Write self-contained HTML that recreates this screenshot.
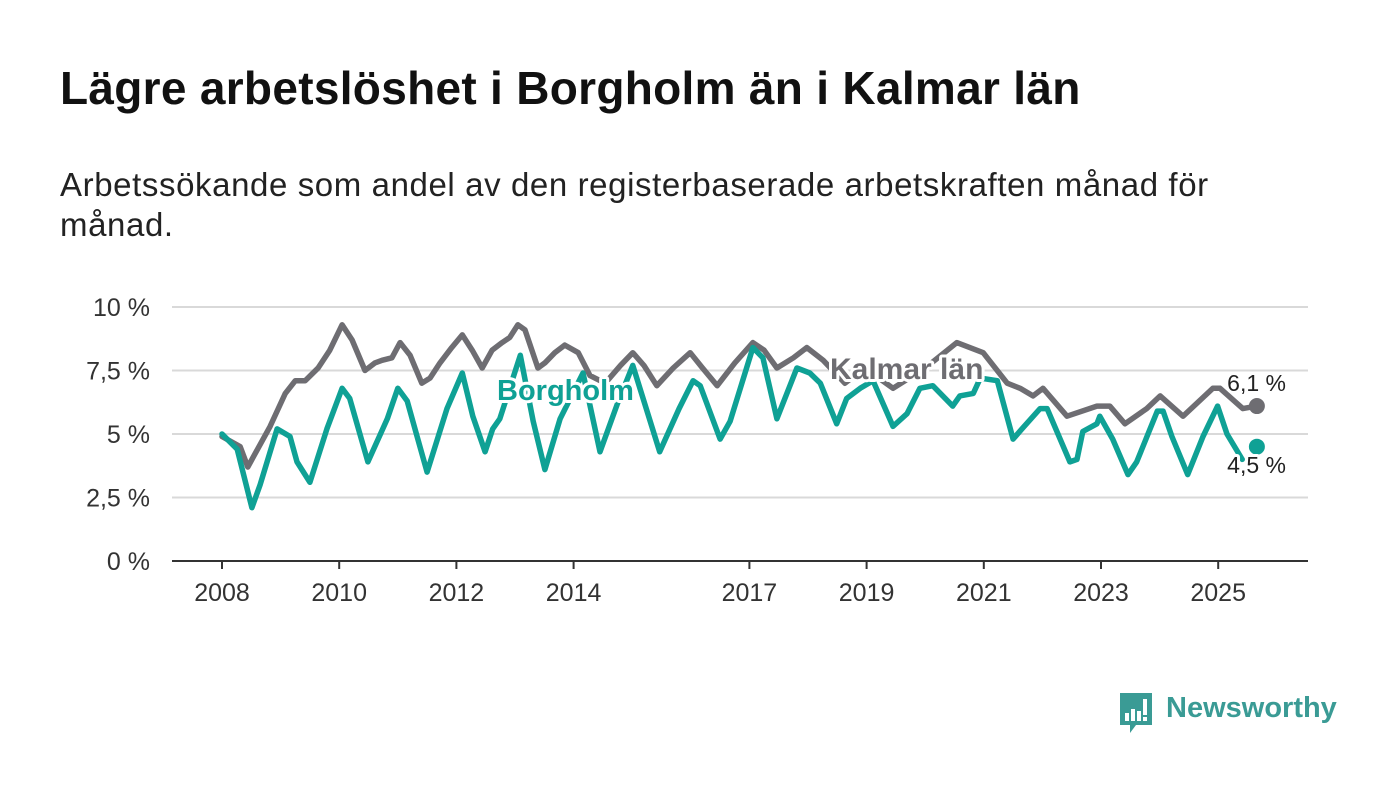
<!DOCTYPE html>
<html><head><meta charset="utf-8">
<style>
body{margin:0;width:1400px;height:794px;background:#fff;font-family:"Liberation Sans",sans-serif;overflow:hidden;position:relative}
h1{position:absolute;left:60px;top:61px;margin:0;font-size:46px;font-weight:bold;color:#111;letter-spacing:0.3px}
.sub{position:absolute;left:60px;top:165px;width:1240px;margin:0;font-size:33px;line-height:40px;color:#222;letter-spacing:0.6px}
svg{position:absolute;left:0;top:0}
</style></head><body>
<h1>Lägre arbetslöshet i Borgholm än i Kalmar län</h1>
<p class="sub">Arbetssökande som andel av den registerbaserade arbetskraften månad för månad.</p>
<svg id="chart" width="1400" height="794"></svg>
<div style="position:absolute;left:1118px;top:691px;width:230px;height:46px">
<svg width="36" height="44" style="left:0;top:0"><path d="M2 2h32v32H18l-6 8v-8H2z" fill="#3a9b95"/><rect x="7" y="22" width="4" height="8" fill="#fff"/><rect x="13" y="18" width="4" height="12" fill="#fff"/><rect x="19" y="20" width="4" height="10" fill="#fff"/><rect x="25" y="8" width="4" height="16" fill="#fff"/><rect x="25" y="26" width="4" height="4" fill="#fff"/></svg>
<span style="position:absolute;left:48px;top:1px;font-size:29px;font-weight:bold;color:#3a9b95">Newsworthy</span>
</div>
<script>
const yTicks=[0,2.5,5,7.5,10];
const yTickLabels=["0 %","2,5 %","5 %","7,5 %","10 %"];
const xTicks=[2008,2010,2012,2014,2017,2019,2021,2023,2025];
const kalmarDates=[2008.00,2008.31,2008.44,2008.82,2009.08,2009.25,2009.42,2009.64,2009.84,2010.05,2010.22,2010.44,2010.61,2010.73,2010.90,2011.04,2011.21,2011.41,2011.55,2011.72,2011.92,2012.10,2012.27,2012.44,2012.61,2012.78,2012.91,2013.05,2013.17,2013.39,2013.51,2013.68,2013.85,2014.08,2014.28,2014.54,2014.80,2015.01,2015.20,2015.42,2015.70,2015.99,2016.20,2016.45,2016.75,2017.06,2017.25,2017.47,2017.75,2017.98,2018.26,2018.63,2018.97,2019.45,2020.00,2020.54,2020.99,2021.40,2021.62,2021.84,2022.01,2022.42,2022.93,2023.15,2023.41,2023.78,2024.01,2024.40,2024.91,2025.03,2025.42,2025.66];
const kalmarValues=[4.9,4.5,3.7,5.3,6.6,7.1,7.1,7.6,8.3,9.3,8.7,7.5,7.8,7.9,8.0,8.6,8.1,7.0,7.2,7.8,8.4,8.9,8.3,7.6,8.3,8.6,8.8,9.3,9.1,7.6,7.8,8.2,8.5,8.2,7.3,7.0,7.7,8.2,7.7,6.9,7.6,8.2,7.6,6.9,7.8,8.6,8.3,7.6,8.0,8.4,7.9,7.0,7.6,6.8,7.6,8.6,8.2,7.0,6.8,6.5,6.8,5.7,6.1,6.1,5.4,6.0,6.5,5.7,6.8,6.8,6.0,6.1];
const borgDates=[2008.00,2008.26,2008.51,2008.65,2008.94,2009.16,2009.28,2009.50,2009.79,2010.05,2010.18,2010.49,2010.82,2011.00,2011.16,2011.33,2011.50,2011.84,2012.10,2012.28,2012.49,2012.62,2012.74,2013.09,2013.31,2013.51,2013.77,2014.16,2014.45,2014.75,2015.01,2015.47,2015.80,2016.04,2016.16,2016.50,2016.67,2017.06,2017.23,2017.47,2017.81,2018.03,2018.21,2018.49,2018.66,2018.89,2019.11,2019.45,2019.69,2019.91,2020.13,2020.47,2020.59,2020.82,2020.94,2021.23,2021.50,2021.65,2021.96,2022.08,2022.47,2022.59,2022.69,2022.93,2022.98,2023.20,2023.46,2023.61,2023.96,2024.06,2024.21,2024.48,2024.74,2024.99,2025.15,2025.41];
const borgValues=[5.0,4.4,2.1,3.0,5.2,4.9,3.9,3.1,5.2,6.8,6.4,3.9,5.6,6.8,6.3,4.9,3.5,6.0,7.4,5.7,4.3,5.2,5.6,8.1,5.5,3.6,5.6,7.4,4.3,6.2,7.7,4.3,6.0,7.1,6.9,4.8,5.5,8.4,8.0,5.6,7.6,7.4,7.0,5.4,6.4,6.8,7.1,5.3,5.8,6.8,6.9,6.1,6.5,6.6,7.2,7.1,4.8,5.2,6.0,6.0,3.9,4.0,5.1,5.4,5.7,4.8,3.4,3.9,5.9,5.9,4.9,3.4,4.9,6.1,5.0,4.0];
const lastDate=2025.66, kalmarLast=6.1, borgLast=4.5;
const kalmarLastLabel="6,1 %", borgLastLabel="4,5 %";

const NS="http://www.w3.org/2000/svg", svg=document.getElementById('chart');
const x=d=>222+(d-2008)*58.6;
const y=v=>561-v*25.4;
function mk(t,a,p){const e=document.createElementNS(NS,t);for(const k in a)e.setAttribute(k,a[k]);(p||svg).appendChild(e);return e;}
yTicks.forEach((v,i)=>{
  if(v>0){const g=mk('line',{x1:172,x2:1308,y1:y(v),y2:y(v),stroke:'#d9d9d9','stroke-width':2});
  
  }
  const t=mk('text',{x:150,y:y(v)+9,'text-anchor':'end','font-size':25,fill:'#333'});t.textContent=yTickLabels[i];
  
  
});
const ax=mk('line',{x1:172,x2:1308,y1:561,y2:561,stroke:'#333','stroke-width':2});


xTicks.forEach(d=>{
  const tk=mk('line',{x1:x(d),x2:x(d),y1:561,y2:569,stroke:'#333','stroke-width':2});
  
  
  const t=mk('text',{x:x(d),y:601,'text-anchor':'middle','font-size':25,fill:'#333'});t.textContent=d;
  
  
});
function line(ds,vs,c,name){
  const p=mk('path',{d:ds.map((d,i)=>(i?'L':'M')+x(d).toFixed(1)+','+y(vs[i]).toFixed(1)).join(''),fill:'none',stroke:c,'stroke-width':5.5,'stroke-linejoin':'round','stroke-linecap':'round'});
  
  
}
line(kalmarDates,kalmarValues,'#6e6d72','kalmar-line');
line(borgDates,borgValues,'#0fa195','borgholm-line');
const d1=mk('circle',{cx:x(lastDate),cy:y(kalmarLast),r:8,fill:'#6e6d72'});


const d2=mk('circle',{cx:x(lastDate),cy:y(borgLast),r:8,fill:'#0fa195'});


function lbl(tx,X,Y,c,fs,bold,name,anchor){
  const t=mk('text',{x:X,y:Y,'font-size':fs,'font-weight':bold?'bold':'normal',fill:c,stroke:'#fff','stroke-width':6,'paint-order':'stroke','stroke-linejoin':'round','text-anchor':anchor||'start'});
  t.textContent=tx;
  
  
}
lbl('Borgholm',497,400,'#0fa195',29,true,'borgholm-label');
lbl('Kalmar län',830,379,'#6e6d72',30,true,'kalmar-label');
lbl(kalmarLastLabel,1286,391,'#222',23,false,'kalmar-value-label','end');
lbl(borgLastLabel,1286,473,'#222',23,false,'borgholm-value-label','end');
</script>
</body></html>
